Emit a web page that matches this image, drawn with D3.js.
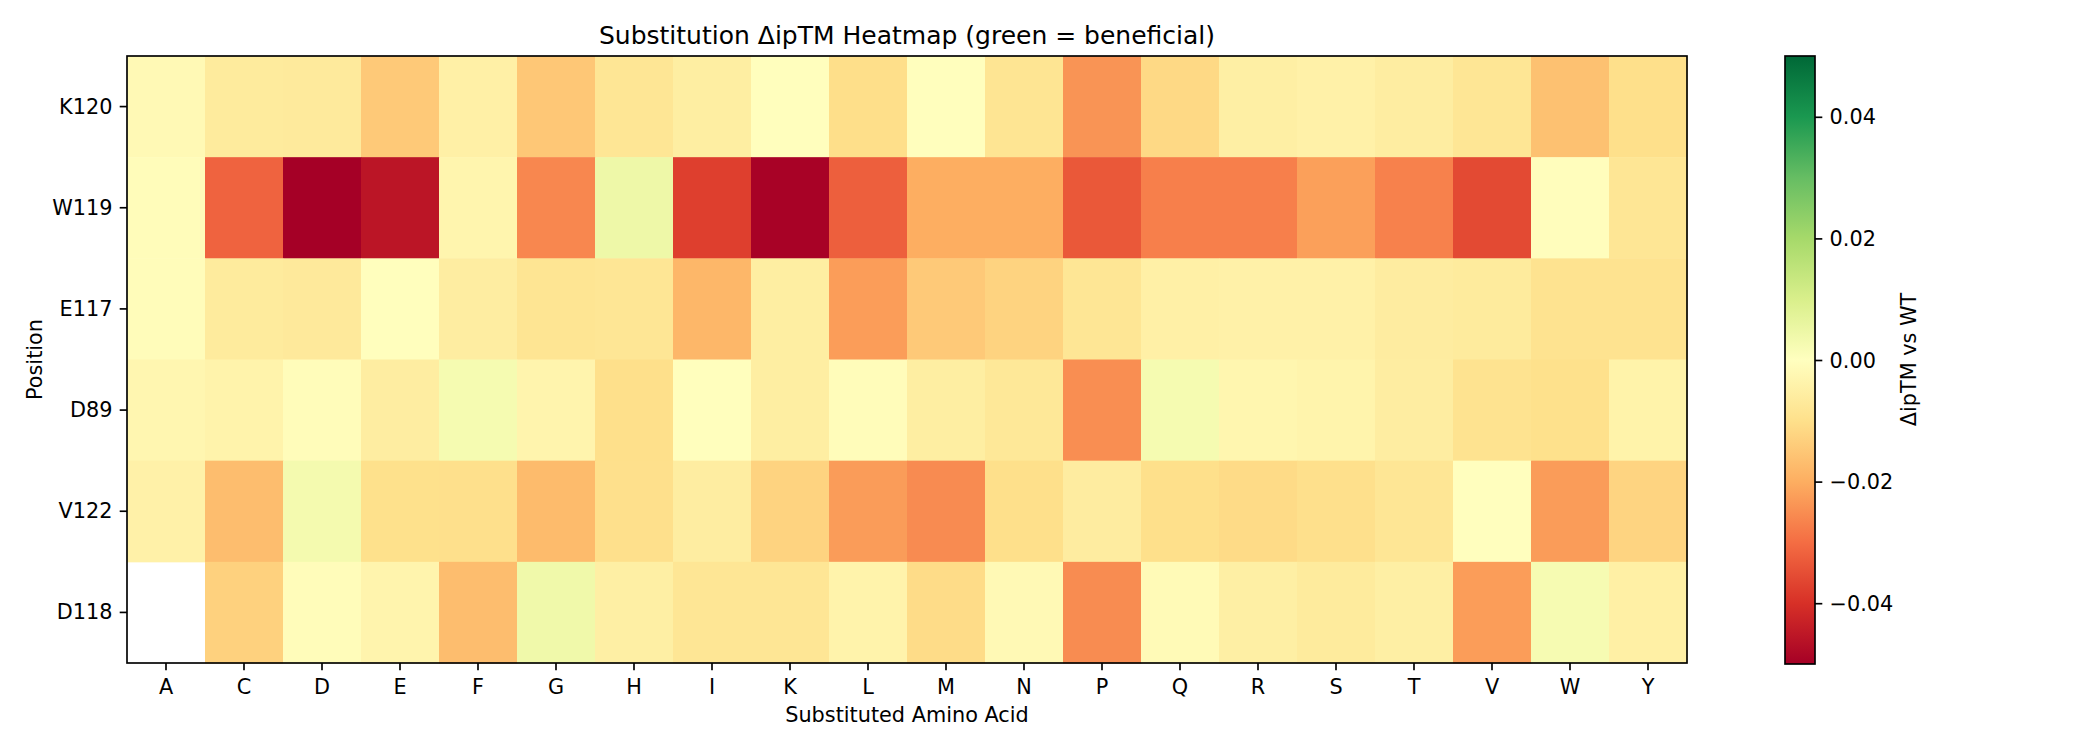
<!DOCTYPE html>
<html>
<head>
    <meta charset="utf-8">
    <title>Substitution ΔipTM Heatmap</title>
    <script src="https://d3js.org/d3.v7.min.js"></script>
</head>
<body style="margin:0">
    <div id="chart"></div>
    <style>
        #chart text { font-family: "DejaVu Sans", sans-serif; fill: #000; }
    </style>

    <script>
        // positions (rows, top to bottom) and substituted residues (columns)
        const positions = ["K120", "W119", "E117", "D89", "V122", "D118"];
        const aminoAcids = ["A", "C", "D", "E", "F", "G", "H", "I", "K", "L",
                            "M", "N", "P", "Q", "R", "S", "T", "V", "W", "Y"];

        // ΔipTM vs WT, one list per position (null = no value)
        const dK120 = [-0.002, -0.0065, -0.0068, -0.0146, -0.0048, -0.015, -0.008, -0.0055, -0.0003, -0.0103,
                       -0.0003, -0.0085, -0.024, -0.0115, -0.0052, -0.0045, -0.0058, -0.008, -0.0162, -0.010];
        const dW119 = [-0.001, -0.0316, -0.050, -0.0456, -0.0032, -0.026, 0.0045, -0.0375, -0.0495, -0.0323,
                       -0.020, -0.020, -0.0334, -0.0272, -0.0272, -0.0222, -0.027, -0.0357, -0.0005, -0.008];
        const dE117 = [-0.001, -0.0065, -0.007, -0.0003, -0.0058, -0.0085, -0.008, -0.0182, -0.0055, -0.0226,
                       -0.0146, -0.0126, -0.008, -0.0048, -0.0045, -0.0045, -0.006, -0.0065, -0.009, -0.009];
        const dD89  = [-0.0028, -0.0038, -0.001, -0.0058, 0.0026, -0.0035, -0.010, -0.0003, -0.0055, -0.001,
                       -0.0055, -0.0075, -0.0249, 0.0026, -0.003, -0.0037, -0.0058, -0.009, -0.0098, -0.004];
        const dV122 = [-0.0045, -0.017, 0.003, -0.0098, -0.0099, -0.0174, -0.0099, -0.0058, -0.0126, -0.0228,
                       -0.0254, -0.010, -0.006, -0.0101, -0.011, -0.0099, -0.008, -0.0002, -0.0228, -0.0125];
        const dD118 = [null, -0.013, -0.001, -0.0035, -0.017, 0.004, -0.0052, -0.008, -0.008, -0.0038,
                       -0.0108, -0.002, -0.0253, -0.0015, -0.0052, -0.0065, -0.0052, -0.0226, 0.0025, -0.005];
        const deltas = [dK120, dW119, dE117, dD89, dV122, dD118];

        const cbarTicks = [0.04, 0.02, 0.00, -0.02, -0.04];
        const vmin = -0.05, vmax = 0.05;

        const W = 2100, H = 750;
        const plot = {left: 127, right: 1687, top: 56, bottom: 663};
        const cbar = {left: 1785, right: 1815};

        const svg = d3.select("#chart").append("svg")
            .attr("width", W)
            .attr("height", H);
        svg.append("rect").attr("width", W).attr("height", H).attr("fill", "#fff");

        const x = d3.scaleBand().domain(aminoAcids).range([plot.left, plot.right]);
        const y = d3.scaleBand().domain(positions).range([plot.top, plot.bottom]);

        // matplotlib style RdYlGn: linear between the 11 brewer colours
        const brewer = d3.schemeRdYlGn[11];
        const color = d3.scaleLinear()
            .domain(d3.range(11).map(i => vmin + i * (vmax - vmin) / 10))
            .range(brewer)
            .interpolate(d3.interpolateRgb)
            .clamp(true);

        const cells = [];
        positions.forEach((p, i) => {
            aminoAcids.forEach((aa, j) => {
                cells.push({pos: p, aa: aa, v: deltas[i][j]});
            });
        });

        svg.append("g").selectAll("rect")
            .data(cells.filter(d => d.v !== null))
            .join("rect")
            .attr("x", d => x(d.aa))
            .attr("y", d => y(d.pos))
            .attr("width", x.bandwidth() + 0.5)
            .attr("height", y.bandwidth() + 0.5)
            .attr("fill", d => color(d.v));

        // frame
        svg.append("rect")
            .attr("x", plot.left).attr("y", plot.top)
            .attr("width", plot.right - plot.left)
            .attr("height", plot.bottom - plot.top)
            .attr("fill", "none").attr("stroke", "#000").attr("stroke-width", 1.67);

        // axes
        const xAxis = svg.append("g")
            .attr("transform", `translate(0,${plot.bottom})`)
            .call(d3.axisBottom(x).tickSize(7.3).tickPadding(7.3));
        const yAxis = svg.append("g")
            .attr("transform", `translate(${plot.left},0)`)
            .call(d3.axisLeft(y).tickSize(7.3).tickPadding(7.3));
        [xAxis, yAxis].forEach(g => {
            g.select(".domain").remove();
            g.selectAll(".tick line").attr("stroke", "#000").attr("stroke-width", 1.67);
            g.selectAll(".tick text").attr("font-size", 20.8).attr("fill", "#000");
        });
        xAxis.selectAll(".tick text").attr("dy", null).attr("y", 31);
        yAxis.selectAll(".tick text").attr("dy", "0.34em");

        svg.append("text")
            .attr("x", (plot.left + plot.right) / 2).attr("y", 722)
            .attr("text-anchor", "middle").attr("font-size", 20.8)
            .text("Substituted Amino Acid");
        svg.append("text")
            .attr("transform", `translate(42,${(plot.top + plot.bottom) / 2}) rotate(-90)`)
            .attr("text-anchor", "middle").attr("font-size", 20.8)
            .text("Position");

        svg.append("text")
            .attr("x", (plot.left + plot.right) / 2).attr("y", 43.5)
            .attr("text-anchor", "middle").attr("font-size", 25)
            .text("Substitution ΔipTM Heatmap (green = beneficial)");

        // colorbar
        const cy = d3.scaleLinear().domain([vmin, vmax]).range([plot.bottom + 1, plot.top]);
        const grad = svg.append("defs").append("linearGradient")
            .attr("id", "cbgrad").attr("x1", 0).attr("y1", 1).attr("x2", 0).attr("y2", 0);
        grad.selectAll("stop")
            .data(brewer)
            .join("stop")
            .attr("offset", (d, i) => i / 10)
            .attr("stop-color", d => d);
        svg.append("rect")
            .attr("x", cbar.left).attr("y", cy(vmax))
            .attr("width", cbar.right - cbar.left)
            .attr("height", cy(vmin) - cy(vmax))
            .attr("fill", "url(#cbgrad)")
            .attr("stroke", "#000").attr("stroke-width", 1.67);

        const cAxis = svg.append("g")
            .attr("transform", `translate(${cbar.right},0)`)
            .call(d3.axisRight(cy).tickValues(cbarTicks).tickSize(7.3).tickPadding(7.3)
                .tickFormat(d => d3.format(".2f")(d).replace("-", "−")));
        cAxis.select(".domain").remove();
        cAxis.selectAll(".tick line").attr("stroke", "#000").attr("stroke-width", 1.67);
        cAxis.selectAll(".tick text").attr("font-size", 20.8).attr("fill", "#000").attr("dy", "0.34em");

        svg.append("text")
            .attr("transform", `translate(1916,${(plot.top + plot.bottom) / 2}) rotate(-90)`)
            .attr("text-anchor", "middle").attr("font-size", 20.8)
            .text("ΔipTM vs WT");
    </script>
</body>
</html>
